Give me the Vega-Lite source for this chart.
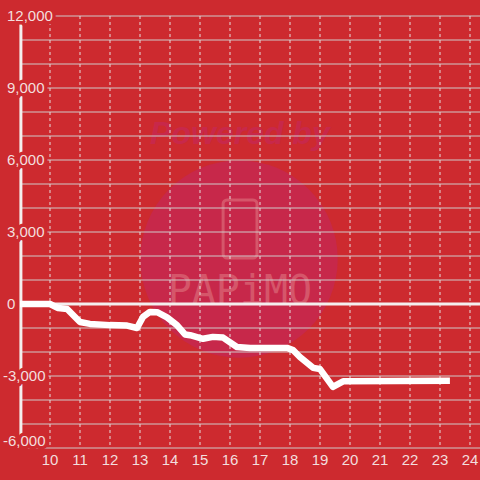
{
  "$schema": "https://vega.github.io/schema/vega-lite/v6.json",
  "width": 460,
  "height": 432,
  "autosize": {"type": "none"},
  "padding": {"left": 20, "top": 16, "right": 0, "bottom": 32},
  "background": "#cd2a2f",
  "config": {"view": {"stroke": null}, "font": "Liberation Sans"},
  "datasets": {
    "series": [
      {"t": 9.0, "v": 0}, {"t": 10.0, "v": 0}, {"t": 10.27, "v": -170}, {"t": 10.57, "v": -210},
      {"t": 11.0, "v": -750}, {"t": 11.33, "v": -830}, {"t": 12.0, "v": -880}, {"t": 12.57, "v": -900},
      {"t": 12.9, "v": -1000}, {"t": 13.1, "v": -540}, {"t": 13.33, "v": -330}, {"t": 13.57, "v": -340},
      {"t": 13.9, "v": -560}, {"t": 14.23, "v": -880}, {"t": 14.5, "v": -1270}, {"t": 14.67, "v": -1300},
      {"t": 15.1, "v": -1450}, {"t": 15.43, "v": -1370}, {"t": 15.77, "v": -1400}, {"t": 16.23, "v": -1790},
      {"t": 16.67, "v": -1830}, {"t": 17.9, "v": -1830}, {"t": 18.1, "v": -1920}, {"t": 18.33, "v": -2210},
      {"t": 18.77, "v": -2660}, {"t": 19.0, "v": -2710}, {"t": 19.43, "v": -3450}, {"t": 19.77, "v": -3220},
      {"t": 23.33, "v": -3200}
    ],
    "ygrid": [
      {"v": -6000}, {"v": -5000}, {"v": -4000}, {"v": -3000}, {"v": -2000}, {"v": -1000},
      {"v": 1000}, {"v": 2000}, {"v": 3000}, {"v": 4000}, {"v": 5000}, {"v": 6000},
      {"v": 7000}, {"v": 8000}, {"v": 9000}, {"v": 10000}, {"v": 11000}, {"v": 12000}
    ],
    "xgrid": [
      {"t": 10}, {"t": 11}, {"t": 12}, {"t": 13}, {"t": 14}, {"t": 15}, {"t": 16}, {"t": 17},
      {"t": 18}, {"t": 19}, {"t": 20}, {"t": 21}, {"t": 22}, {"t": 23}, {"t": 24}
    ],
    "yticks": [
      {"v": -6000, "label": "-6,000"}, {"v": -3000, "label": "-3,000"}, {"v": 0, "label": "0"},
      {"v": 3000, "label": "3,000"}, {"v": 6000, "label": "6,000"}, {"v": 9000, "label": "9,000"},
      {"v": 12000, "label": "12,000"}
    ]
  },
  "layer": [
    {
      "data": {"values": [{}]},
      "mark": {"type": "point", "filled": true, "shape": "circle", "size": 39000, "color": "#c7284a", "opacity": 1},
      "encoding": {
        "x": {"datum": 16.3, "type": "quantitative", "scale": {"domain": [9, 24.333], "nice": false, "zero": false}, "axis": null},
        "y": {"datum": 1875, "type": "quantitative", "scale": {"domain": [-6000, 12000], "nice": false, "zero": false}, "axis": null}
      }
    },
    {
      "data": {"values": [{"s": "Powered by"}]},
      "mark": {"type": "text", "font": "Liberation Sans", "fontSize": 32, "fontWeight": "bold", "fontStyle": "italic", "color": "#c8284a", "align": "center", "baseline": "middle"},
      "encoding": {
        "x": {"datum": 16.33, "type": "quantitative", "axis": null},
        "y": {"datum": 7083, "type": "quantitative", "axis": null},
        "text": {"field": "s"}
      }
    },
    {
      "data": {"values": [{}]},
      "mark": {"type": "rect", "filled": false, "stroke": "#d5566a", "strokeWidth": 3, "cornerRadius": 4},
      "encoding": {
        "x": {"datum": 15.77, "type": "quantitative", "axis": null},
        "x2": {"datum": 16.9},
        "y": {"datum": 4333, "type": "quantitative", "axis": null},
        "y2": {"datum": 1917}
      }
    },
    {
      "data": {"values": [{"s": "PAPiMO"}]},
      "mark": {"type": "text", "font": "DejaVu Sans Mono", "fontSize": 40, "color": "#d5566a", "align": "center", "baseline": "middle"},
      "encoding": {
        "x": {"datum": 16.33, "type": "quantitative", "axis": null},
        "y": {"datum": 500, "type": "quantitative", "axis": null},
        "text": {"field": "s"}
      }
    },
    {
      "data": {"name": "ygrid"},
      "mark": {"type": "rule", "color": "#cfc9c9", "strokeWidth": 1},
      "encoding": {"y": {"field": "v", "type": "quantitative", "axis": null}}
    },
    {
      "data": {"name": "xgrid"},
      "mark": {"type": "rule", "color": "#e6dede", "strokeWidth": 1, "strokeDash": [3, 3]},
      "encoding": {"x": {"field": "t", "type": "quantitative", "axis": null}}
    },
    {
      "data": {"values": [{}]},
      "mark": {"type": "rule", "color": "#f4eeee", "strokeWidth": 3},
      "encoding": {"y": {"datum": 0, "type": "quantitative", "axis": null}}
    },
    {
      "data": {"values": [{}]},
      "mark": {"type": "rule", "color": "#f4eeee", "strokeWidth": 3},
      "encoding": {"x": {"datum": 9.03, "type": "quantitative", "axis": null}}
    },
    {
      "data": {"name": "series"},
      "mark": {"type": "line", "color": "#ffffff", "strokeWidth": 6.5, "strokeJoin": "round", "strokeCap": "butt"},
      "encoding": {
        "x": {"field": "t", "type": "quantitative", "axis": null},
        "y": {"field": "v", "type": "quantitative", "axis": null}
      }
    },
    {
      "data": {"name": "xgrid"},
      "mark": {"type": "text", "fontSize": 15, "align": "center", "baseline": "middle", "color": "#f3dede"},
      "encoding": {
        "x": {"field": "t", "type": "quantitative", "axis": null},
        "y": {"datum": -6500, "type": "quantitative", "axis": null},
        "text": {"field": "t", "type": "quantitative", "format": "d"}
      }
    },
    {
      "data": {"name": "yticks"},
      "transform": [{"filter": "datum.v >= 0"}],
      "mark": {"type": "text", "fontSize": 15, "align": "left", "baseline": "middle", "color": "#cd2a2f", "stroke": "#cd2a2f", "strokeWidth": 7, "strokeJoin": "round"},
      "encoding": {
        "x": {"datum": 8.567, "type": "quantitative", "axis": null},
        "y": {"field": "v", "type": "quantitative", "axis": null},
        "text": {"field": "label"}
      }
    },
    {
      "data": {"name": "yticks"},
      "transform": [{"filter": "datum.v >= 0"}],
      "mark": {"type": "text", "fontSize": 15, "align": "left", "baseline": "middle", "color": "#f3dede"},
      "encoding": {
        "x": {"datum": 8.567, "type": "quantitative", "axis": null},
        "y": {"field": "v", "type": "quantitative", "axis": null},
        "text": {"field": "label"}
      }
    },
    {
      "data": {"name": "yticks"},
      "transform": [{"filter": "datum.v == -3000"}],
      "mark": {"type": "text", "fontSize": 15, "align": "left", "baseline": "middle", "dx": -4, "color": "#cd2a2f", "stroke": "#cd2a2f", "strokeWidth": 7, "strokeJoin": "round"},
      "encoding": {
        "x": {"datum": 8.567, "type": "quantitative", "axis": null},
        "y": {"field": "v", "type": "quantitative", "axis": null},
        "text": {"field": "label"}
      }
    },
    {
      "data": {"name": "yticks"},
      "transform": [{"filter": "datum.v == -3000"}],
      "mark": {"type": "text", "fontSize": 15, "align": "left", "baseline": "middle", "dx": -4, "color": "#f3dede"},
      "encoding": {
        "x": {"datum": 8.567, "type": "quantitative", "axis": null},
        "y": {"field": "v", "type": "quantitative", "axis": null},
        "text": {"field": "label"}
      }
    },
    {
      "data": {"name": "yticks"},
      "transform": [{"filter": "datum.v == -6000"}],
      "mark": {"type": "text", "fontSize": 15, "align": "left", "baseline": "middle", "dx": -4, "dy": -7, "color": "#cd2a2f", "stroke": "#cd2a2f", "strokeWidth": 7, "strokeJoin": "round"},
      "encoding": {
        "x": {"datum": 8.567, "type": "quantitative", "axis": null},
        "y": {"field": "v", "type": "quantitative", "axis": null},
        "text": {"field": "label"}
      }
    },
    {
      "data": {"name": "yticks"},
      "transform": [{"filter": "datum.v == -6000"}],
      "mark": {"type": "text", "fontSize": 15, "align": "left", "baseline": "middle", "dx": -4, "dy": -7, "color": "#f3dede"},
      "encoding": {
        "x": {"datum": 8.567, "type": "quantitative", "axis": null},
        "y": {"field": "v", "type": "quantitative", "axis": null},
        "text": {"field": "label"}
      }
    }
  ]
}
